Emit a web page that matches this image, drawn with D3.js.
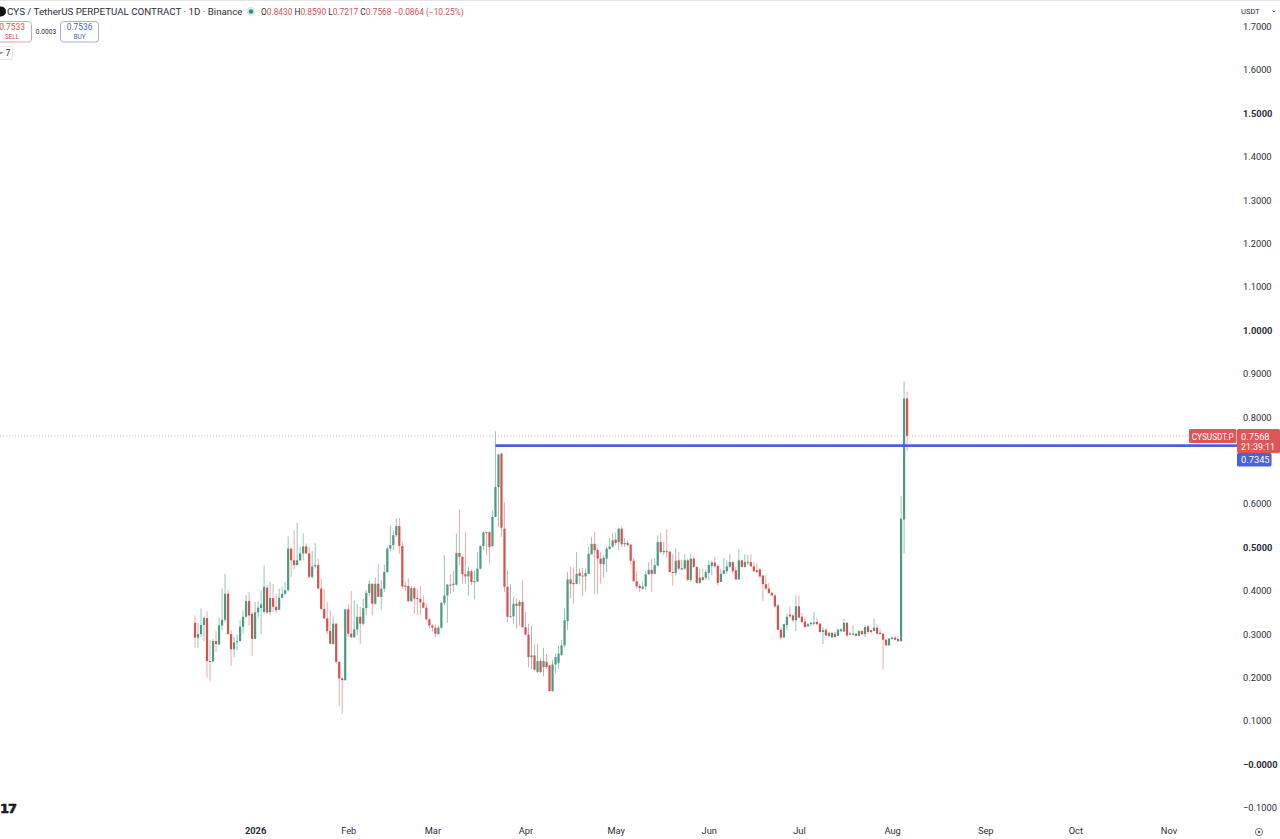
<!DOCTYPE html>
<html><head><meta charset="utf-8">
<script src="https://cdn.jsdelivr.net/npm/d3@7/dist/d3.min.js"></script>
<style>html,body{margin:0;background:#fff;overflow:hidden}svg{display:block;font-family:Roboto,sans-serif}</style>
</head><body><svg id="c" width="1280" height="839"></svg>
<script>
const firstDay = "2025-12-12";
const opens = [.326,.292,.300,.321,.337,.238,.237,.284,.276,.320,.333,.393,.300,.265,.281,.284,.317,.340,.376,.347,.289,.350,.360,.351,.407,.351,.383,.363,.356,.384,.393,.401,.497,.470,.459,.470,.486,.502,.486,.432,.456,.459,.405,.358,.336,.307,.277,.324,.236,.198,.194,.357,.301,.293,.311,.340,.324,.360,.395,.416,.370,.416,.386,.405,.443,.497,.505,.528,.549,.503,.412,.411,.376,.406,.383,.381,.373,.361,.334,.320,.315,.300,.315,.372,.389,.414,.413,.414,.487,.478,.438,.433,.445,.420,.421,.451,.503,.535,.535,.503,.570,.639,.716,.543,.409,.339,.341,.370,.365,.374,.316,.299,.247,.251,.213,.238,.224,.236,.228,.169,.230,.234,.252,.274,.330,.426,.418,.416,.441,.435,.433,.439,.484,.508,.494,.474,.461,.474,.496,.502,.518,.512,.543,.507,.510,.506,.469,.422,.411,.405,.410,.438,.448,.439,.458,.512,.489,.491,.490,.443,.441,.470,.449,.451,.470,.425,.474,.455,.418,.431,.430,.441,.457,.465,.457,.420,.439,.445,.455,.466,.447,.426,.470,.455,.464,.466,.456,.447,.449,.435,.415,.405,.395,.389,.366,.310,.292,.321,.345,.343,.332,.364,.340,.329,.318,.323,.324,.328,.324,.305,.310,.296,.303,.293,.296,.307,.306,.326,.299,.299,.301,.296,.307,.300,.318,.309,.307,.315,.303,.301,.287,.274,.289,.292,.289,.284,.564,.843];
const highs = [.343,.326,.359,.339,.353,.286,.289,.307,.338,.405,.439,.403,.309,.294,.300,.333,.355,.390,.397,.351,.374,.376,.401,.459,.413,.420,.416,.393,.405,.409,.420,.525,.499,.539,.557,.501,.532,.509,.501,.492,.510,.474,.428,.403,.374,.355,.341,.326,.238,.200,.358,.368,.400,.378,.370,.363,.382,.401,.424,.417,.430,.462,.424,.460,.501,.551,.539,.566,.568,.512,.420,.429,.411,.410,.405,.411,.389,.370,.337,.323,.322,.320,.374,.482,.416,.439,.446,.532,.588,.480,.535,.455,.449,.447,.489,.505,.537,.536,.537,.585,.767,.716,.718,.604,.447,.415,.386,.382,.378,.424,.351,.324,.320,.277,.278,.244,.269,.255,.229,.240,.255,.274,.286,.359,.443,.455,.453,.489,.451,.453,.451,.501,.524,.535,.499,.489,.482,.502,.522,.533,.535,.545,.549,.522,.516,.508,.476,.445,.415,.420,.445,.466,.474,.474,.528,.533,.512,.541,.492,.485,.497,.489,.472,.485,.474,.485,.479,.456,.451,.451,.449,.469,.469,.478,.461,.451,.476,.470,.485,.469,.455,.495,.472,.484,.482,.484,.466,.464,.453,.436,.436,.418,.397,.392,.369,.315,.324,.347,.364,.347,.389,.389,.349,.340,.326,.328,.351,.338,.326,.315,.313,.305,.304,.305,.313,.313,.336,.328,.305,.320,.303,.309,.309,.320,.320,.310,.336,.323,.313,.303,.289,.291,.295,.295,.295,.618,.883,.859];
const lows = [.269,.269,.293,.284,.200,.191,.236,.259,.275,.309,.328,.299,.227,.247,.263,.282,.300,.338,.320,.250,.288,.336,.300,.347,.347,.343,.351,.349,.355,.382,.390,.400,.432,.449,.458,.469,.470,.485,.428,.428,.451,.404,.355,.335,.300,.276,.276,.232,.135,.117,.192,.293,.291,.290,.297,.278,.320,.343,.389,.343,.368,.385,.356,.397,.441,.491,.493,.524,.485,.405,.399,.374,.374,.347,.345,.343,.359,.332,.313,.305,.293,.299,.312,.366,.326,.393,.397,.412,.459,.416,.416,.389,.413,.380,.420,.449,.493,.482,.462,.501,.569,.547,.524,.397,.328,.338,.324,.313,.320,.315,.297,.224,.220,.216,.210,.210,.203,.220,.167,.167,.209,.220,.249,.269,.309,.382,.370,.415,.415,.387,.399,.438,.483,.392,.392,.416,.430,.443,.495,.499,.505,.493,.501,.501,.502,.461,.420,.405,.397,.401,.402,.437,.397,.438,.456,.485,.482,.476,.442,.412,.435,.447,.447,.448,.422,.420,.453,.416,.416,.422,.425,.425,.435,.453,.412,.420,.438,.439,.453,.439,.425,.425,.453,.453,.459,.455,.443,.441,.430,.376,.402,.392,.387,.361,.309,.287,.291,.309,.336,.328,.307,.336,.326,.315,.316,.318,.320,.320,.303,.277,.295,.292,.291,.292,.295,.305,.305,.293,.297,.297,.295,.295,.297,.293,.301,.301,.307,.299,.299,.218,.272,.274,.287,.286,.282,.282,.485,.722];
const closes = [.292,.300,.321,.337,.238,.236,.284,.277,.320,.333,.393,.300,.265,.281,.284,.317,.340,.376,.343,.289,.350,.361,.369,.409,.350,.383,.363,.355,.384,.393,.401,.497,.470,.459,.470,.486,.502,.486,.432,.456,.459,.405,.358,.336,.307,.278,.324,.236,.198,.194,.357,.301,.293,.311,.340,.324,.360,.395,.416,.370,.416,.386,.405,.443,.497,.505,.528,.549,.503,.410,.409,.376,.406,.382,.381,.373,.361,.334,.320,.315,.301,.315,.372,.389,.414,.412,.416,.487,.478,.438,.433,.445,.420,.422,.451,.503,.534,.533,.501,.570,.639,.714,.545,.409,.340,.341,.370,.365,.374,.316,.299,.247,.251,.218,.238,.213,.238,.224,.169,.230,.247,.255,.274,.332,.426,.416,.415,.439,.434,.433,.441,.485,.508,.493,.474,.462,.476,.497,.502,.516,.510,.543,.507,.510,.505,.469,.422,.410,.406,.410,.438,.448,.439,.459,.512,.489,.492,.489,.443,.441,.469,.451,.452,.470,.425,.474,.455,.418,.430,.425,.443,.459,.465,.456,.418,.439,.447,.456,.466,.445,.426,.470,.455,.466,.466,.456,.445,.443,.433,.415,.405,.395,.389,.364,.310,.292,.323,.340,.341,.332,.364,.338,.328,.316,.323,.326,.327,.323,.305,.309,.297,.303,.293,.301,.310,.311,.326,.297,.301,.301,.296,.307,.300,.316,.305,.305,.315,.301,.300,.287,.274,.290,.292,.287,.284,.566,.843,.757];
const priceTicks = [1.7,1.6,1.5,1.4,1.3,1.2,1.1,1.0,.9,.8,.7,.6,.5,.4,.3,.2,.1,0,-.1];
const boldPrices = [1.5,1.0,.5,0];
const monthStarts = ["2026-01-01","2026-02-01","2026-03-01","2026-04-01","2026-05-01","2026-06-01","2026-07-01","2026-08-01","2026-09-01","2026-10-01","2026-11-01"];
const monthLabels = ["2026","Feb","Mar","Apr","May","Jun","Jul","Aug","Sep","Oct","Nov"];
const lastPrice = 0.7568;
const levelPrice = 0.7345;
const levelStart = "2026-03-22";

const GREEN="#4b9a83", RED="#d9504f", GW="#97c5b5", RW="#ebabab", BLUE="#4a60dc", TXT="#2a2e39";
const svg = d3.select("#c");
const y = d3.scaleLinear().domain([0,1.7]).range([764.3,26.6]);
const x = d3.scaleUtc().domain([new Date(firstDay), new Date("2026-11-01")]).range([195,1168.5]);
const day = i => new Date(+new Date(firstDay)+i*864e5);
const candles = closes.map((c,i)=>({d:day(i),o:opens[i],h:highs[i],l:lows[i],c}));
const up = d=>d.c>=d.o;

svg.append("rect").attr("width",1280).attr("height",1).attr("fill","#e4e4e6");
svg.append("line").attr("x1",0).attr("x2",1236).attr("y1",y(lastPrice)).attr("y2",y(lastPrice))
  .attr("stroke","#f0b4b4").attr("stroke-width",1).attr("stroke-dasharray","1.2 1.8");

const g = svg.append("g");
g.selectAll("line.w").data(candles).join("line").attr("class","w")
  .attr("x1",d=>x(d.d)).attr("x2",d=>x(d.d)).attr("y1",d=>y(d.h)).attr("y2",d=>y(d.l))
  .attr("stroke",d=>up(d)?GW:RW).attr("stroke-width",1);
g.selectAll("rect").data(candles).join("rect")
  .attr("x",d=>x(d.d)-1.1).attr("width",2.2)
  .attr("y",d=>y(Math.max(d.o,d.c))).attr("height",d=>Math.max(1,Math.abs(y(d.o)-y(d.c))))
  .attr("fill",d=>up(d)?GREEN:RED);

svg.append("line").attr("x1",x(new Date(levelStart))).attr("x2",1237).attr("y1",y(levelPrice)).attr("y2",y(levelPrice))
  .attr("stroke",BLUE).attr("stroke-width",2.8);

const fmtP = v => v===0 ? "\u22120.0000" : (v<0?"\u2212":"")+Math.abs(v).toFixed(4);
const ya = svg.append("g").attr("transform","translate(1240,0)")
  .call(d3.axisRight(y).tickValues(priceTicks).tickSize(0).tickPadding(3).tickFormat(fmtP));
ya.select(".domain").remove();
ya.selectAll("text").attr("font-family","Roboto,sans-serif").attr("font-size",9.3).attr("fill",TXT)
  .attr("font-weight",d=>boldPrices.includes(d)?700:400);
const xa = svg.append("g").attr("transform","translate(0,827)")
  .call(d3.axisBottom(x).tickValues(monthStarts.map(s=>new Date(s))).tickSize(0).tickPadding(0)
    .tickFormat((d,i)=>monthLabels[i]));
xa.select(".domain").remove();
xa.selectAll("text").attr("font-family","Roboto,sans-serif").attr("font-size",9.3).attr("fill",TXT)
  .attr("font-weight",(d,i)=>i===0?700:400);

function T(px,py,s,o={}){return svg.append("text").attr("x",px).attr("y",py).text(s)
  .attr("font-size",o.size||9).attr("fill",o.fill||TXT).attr("text-anchor",o.anchor||"start")
  .attr("font-weight",o.weight||400);}

svg.append("circle").attr("cx",1).attr("cy",11.5).attr("r",5).attr("fill","#111");
T(7,15,"CYS / TetherUS PERPETUAL CONTRACT \u00b7 1D \u00b7 Binance",{size:9.75,fill:"#2a2e39"});
svg.append("circle").attr("cx",251).attr("cy",11.5).attr("r",4.5).attr("fill","#d5ebe4");
svg.append("circle").attr("cx",251).attr("cy",11.5).attr("r",2.2).attr("fill","#2f8f77");
const ohlc = svg.append("text").attr("x",261).attr("y",14.5).attr("font-size",8.35);
[["O",TXT],["0.8430 ",RED],["H",TXT],["0.8590 ",RED],["L",TXT],["0.7217 ",RED],["C",TXT],["0.7568 ",RED],["\u22120.0864 (\u221210.25%)",RED]]
  .forEach(([s,f])=>ohlc.append("tspan").attr("fill",f).text(s));

svg.append("rect").attr("x",-4).attr("y",21.5).attr("width",35.5).attr("height",20.5).attr("rx",3).attr("fill","#fff").attr("stroke","#e3a1a1");
T(12,30,"0.7533",{size:8.4,fill:RED,anchor:"middle"});
T(12,39,"SELL",{size:6.5,fill:RED,anchor:"middle"});
T(46,33.5,"0.0003",{size:6.6,anchor:"middle"});
svg.append("rect").attr("x",60.5).attr("y",21.5).attr("width",38).attr("height",20.5).attr("rx",3).attr("fill","#fff").attr("stroke","#a5aeea");
T(79.5,30,"0.7536",{size:8.4,fill:"#4a60dc",anchor:"middle"});
T(79.5,39,"BUY",{size:6.5,fill:"#4a60dc",anchor:"middle"});
svg.append("rect").attr("x",-3).attr("y",46.5).attr("width",15.5).attr("height",13).attr("rx",1.5).attr("fill","#fff").attr("stroke","#e6e6e8");
svg.append("path").attr("d","M-0.5 52l1.5 1.5l1.5 -1.5").attr("fill","none").attr("stroke","#333");
T(5.5,56,"7",{size:8.6});

T(0,813,"17",{size:13,weight:700,fill:"#131722"}).attr("font-family","'DejaVu Sans',sans-serif").attr("stroke","#131722").attr("stroke-width",.6).attr("letter-spacing",-1);

T(1241,14,"USDT",{size:7.6});
svg.append("path").attr("d","M1272.5 10.5l1.6 1.6l1.6 -1.6").attr("fill","none").attr("stroke","#333").attr("stroke-width",.8);
svg.append("rect").attr("x",1189).attr("y",429).attr("width",47.5).attr("height",14).attr("rx",1.5).attr("fill","#dc5656");
T(1212.7,440,"CYSUSDT.P",{size:8.2,fill:"#fff",anchor:"middle"});
svg.append("rect").attr("x",1237).attr("y",429).attr("width",43).attr("height",24).attr("rx",1.5).attr("fill","#dc5656");
T(1241,440,d3.format(".4f")(lastPrice),{size:9.3,fill:"#fff"});
T(1241,449.5,"21:39:11",{size:8.8,fill:"#fff"});
svg.append("rect").attr("x",1237).attr("y",453).attr("width",34.5).attr("height",13.5).attr("rx",1.5).attr("fill",BLUE);
T(1241,463,d3.format(".4f")(levelPrice),{size:9.3,fill:"#fff"});

svg.append("circle").attr("cx",1259).attr("cy",832).attr("r",3.6).attr("fill","none").attr("stroke","#555").attr("stroke-width",.8);
svg.append("circle").attr("cx",1259).attr("cy",832).attr("r",1.3).attr("fill","#555");
</script></body></html>
